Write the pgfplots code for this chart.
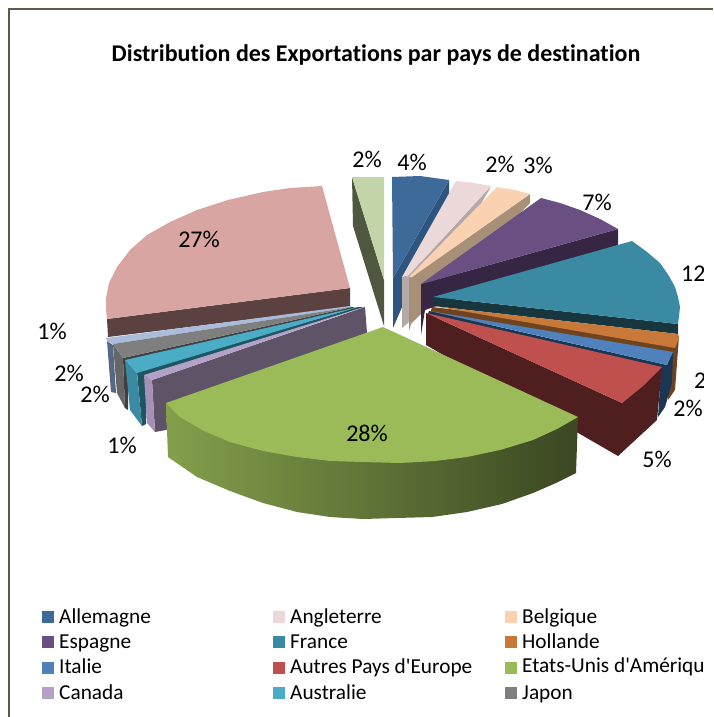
\documentclass[border=0pt]{standalone}
\usepackage{pgfplots}
\pgfplotsset{compat=1.18}
\usepackage{fontspec}
\newfontfamily\carl{Carlito}[Ligatures=NoCommon]
\definecolor{cAll}{HTML}{3E6A9A}\definecolor{cAllS}{HTML}{2E5580}
\definecolor{cAng}{HTML}{EBD9D9}\definecolor{cAngS}{HTML}{B5A8A8}
\definecolor{cBel}{HTML}{FAD2B2}\definecolor{cBelS}{HTML}{A89078}
\definecolor{cEsp}{HTML}{6A4F83}\definecolor{cEspS}{HTML}{362644}
\definecolor{cFra}{HTML}{3A8AA3}\definecolor{cFraS}{HTML}{17363E}
\definecolor{cHol}{HTML}{C8793A}\definecolor{cHolS}{HTML}{6E4420}
\definecolor{cIta}{HTML}{4F81BD}\definecolor{cItaS}{HTML}{1A3653}
\definecolor{cAut}{HTML}{C0504D}\definecolor{cAutS}{HTML}{4F1F1F}
\definecolor{cUsa}{HTML}{9BBB59}
\definecolor{cCan}{HTML}{B2A2C7}\definecolor{cCanS}{HTML}{5F5368}\definecolor{cCanO}{HTML}{A591B5}
\definecolor{cAus}{HTML}{4BACC6}\definecolor{cAusS}{HTML}{3A8AA3}\definecolor{cAusD}{HTML}{1F5560}
\definecolor{cJap}{HTML}{7F7F7F}\definecolor{cJapS}{HTML}{666666}\definecolor{cJapD}{HTML}{3F3F3F}
\definecolor{cMex}{HTML}{A9BCDC}\definecolor{cMexS}{HTML}{566884}
\definecolor{cPin}{HTML}{D8A5A3}\definecolor{cPinS}{HTML}{5B4240}
\definecolor{cGre}{HTML}{C3D5A8}\definecolor{cGreS}{HTML}{4F5740}
\definecolor{cFrame}{HTML}{5F5A48}
\newcommand{\poly}[2]{\addplot[fill=#1,draw=none,forget plot] coordinates {#2} --cycle;}
\newcommand{\lab}[3]{\node[font=\carl\fontsize{24}{28}\selectfont,anchor=center,inner sep=0pt] at (axis cs:#1,#2) {#3};}
\newcommand{\leg}[5]{\addplot[fill=#4,draw=none,forget plot] coordinates {(#1,#2-6) (#1+12,#2-6) (#1+12,#2+6) (#1,#2+6)} --cycle;
 \node[font=\carl\fontsize{21.3}{25}\selectfont,anchor=base west,inner sep=0pt] at (axis cs:#1+17,#3) {#5};}
\begin{document}
\begin{tikzpicture}[x=1pt,y=1pt]
\path[use as bounding box] (0,0) rectangle (713pt,717pt);
\clip (0,0) rectangle (713pt,717pt);
\begin{axis}[at={(0,0)},anchor=south west,scale only axis,width=713pt,height=717pt,
  xmin=0,xmax=713,ymin=0,ymax=717,y dir=reverse,hide axis,clip=false]
\addplot[draw=cFrame,line width=1.4pt,forget plot] coordinates {(9,717) (9,9) (713,9)};
% Pink back slice
\poly{cPinS}{(107,319) (350,288) (350,307) (108,337)}
\poly{cPin}{(322,186) (290,188) (263,192) (228,200) (197,210) (170,222) (147,235) (130,250) (117,267) (109,283) (106,298) (106,310) (107,319) (350,288)}
% Pale green
\poly{cGreS}{(352,177) (384,280) (384,326) (353,226)}
\poly{cGre}{(352,177) (384,177) (384,280)}
% Allemagne
\poly{cAllS}{(449,180) (449,198) (393,328) (393,278)}
\poly{cAll}{(392,177) (420,176) (449,180) (393,278)}
% Angleterre
\poly{cAngS}{(491,186) (488,192) (409,322) (402,328) (402,277) (408,276)}
\poly{cAng}{(456,181) (474,183) (491,186) (408,276) (402,277)}
% Belgique
\poly{cBelS}{(530,194) (530,203) (411,324) (409,331) (409,277) (412,277)}
\poly{cBel}{(497,187) (515,190) (530,194) (412,277) (409,277)}
% Espagne
\poly{cEspS}{(618,229) (618,245) (425,310) (421,335) (421,284)}
\poly{cEsp}{(541,198) (560,203) (580,210) (600,219) (618,229) (421,284)}
% France
\poly{cFraS}{(678,324) (678,334) (433,306) (433,297)}
\poly{cFra}{(632,241) (647,252) (660,263) (669,276) (675,287) (678,297) (680,307) (679,316) (678,324) (433,297)}
% Hollande
\poly{cHolS}{(432,307) (679,336) (675,390) (668,400) (668,356) (430,314)}
\poly{cHol}{(433,306) (678,334) (679,338) (675,348)}
% Italie
\poly{cItaS}{(429,311) (667,365) (673,352) (672,383) (665,407) (658,417) (661,370) (427,316)}
\poly{cIta}{(430,311) (673,352) (667,365)}
% Autres
\poly{cAutS}{(426,313) (622,403) (662,367) (657,420) (618,456) (426,345)}
\poly{cAut}{(426,313) (662,367) (643,386) (622,403)}
% 1% pale blue
\poly{cMexS}{(107,341) (111,392) (116,393) (113,345)}
\poly{cMex}{(106,338) (350,306) (352,307) (113,344) (108,342)}
% Japon
\poly{cJapS}{(113,344) (117,393) (125,408) (123,358)}
\poly{cJapD}{(123,358) (125,408) (128,410) (128,362) (356,308) (352,307)}
\poly{cJap}{(113,344) (352,307) (123,358)}
% Australie
\poly{cAusD}{(137,372) (142,426) (146,424) (148,376) (364,307) (358,307)}
\poly{cAusS}{(125,360) (130,410) (142,426) (137,373)}
\poly{cAus}{(125,360) (358,307) (137,373)}
% Canada
\poly{cCanS}{(152,380) (365,307) (367,333) (166,430) (155,432)}
\poly{cCanO}{(144,375) (152,380) (155,432) (147,423)}
\poly{cCan}{(144,375) (364,307) (152,380)}
% USA side then top
\addplot[draw=none,forget plot,left color=cUsa!85!black,middle color=cUsa!55!black,right color=cUsa!38!black] coordinates {(166,403) (168,457) (197,477) (230,491) (263,503) (297,512) (330,517) (363,519) (397,518) (432,517) (467,512) (502,504) (533,493) (556,483) (576,473) (578,417)} --cycle;
\poly{cUsa}{(383,327) (166,403) (180,417) (204,431) (230,442) (263,451) (297,457) (330,461) (363,462) (400,463) (435,461) (467,457) (500,450) (533,440) (557,429) (578,417)}
% Pourcentages
\lab{367}{159}{2\%}\lab{412}{162}{4\%}\lab{500}{164}{2\%}\lab{538}{165}{3\%}
\lab{597}{202}{7\%}\lab{199}{239}{27\%}\lab{367}{433}{28\%}
\lab{657}{459}{5\%}\lab{688}{408}{2\%}\lab{122}{445}{1\%}\lab{95}{394}{2\%}
\lab{69}{373}{2\%}\lab{52}{331}{1\%}
% Titre
\node[font=\carl\fontsize{24}{28}\selectfont\bfseries,anchor=center,inner sep=0pt] at (axis cs:376,55) {Distribution des Exportations par pays de destination};
% Légende
\leg{42}{617}{623}{cAll}{Allemagne}\leg{273}{617}{623}{cAng}{Angleterre}\leg{505}{617}{623}{cBel}{Belgique}
\leg{42}{642}{648}{cEsp}{Espagne}\leg{273}{642}{648}{cFra}{France}\leg{505}{642}{648}{cHol}{Hollande}
\leg{42}{668}{673}{cIta}{Italie}\leg{273}{668}{673}{cAut}{Autres Pays d'Europe}\addplot[fill=cUsa,draw=none,forget plot] coordinates {(505,662) (517,662) (517,674) (505,674)} --cycle;
\leg{42}{693}{699}{cCan}{Canada}\leg{273}{693}{699}{cAus}{Australie}\leg{505}{693}{699}{cJap}{Japon}
\end{axis}
\begin{scope}
\clip (0,0) rectangle (703pt,717pt);
\node[font=\carl\fontsize{24}{28}\selectfont,anchor=west,inner sep=0pt] at (681pt,444pt) {12\%};
\node[font=\carl\fontsize{24}{28}\selectfont,anchor=west,inner sep=0pt] at (694pt,337pt) {2\%};
\node[font=\carl\fontsize{21.3}{25}\selectfont,anchor=base west,inner sep=0pt] at (522pt,44pt) {Etats-Unis d'Amérique};
\end{scope}
\end{tikzpicture}
\end{document}
